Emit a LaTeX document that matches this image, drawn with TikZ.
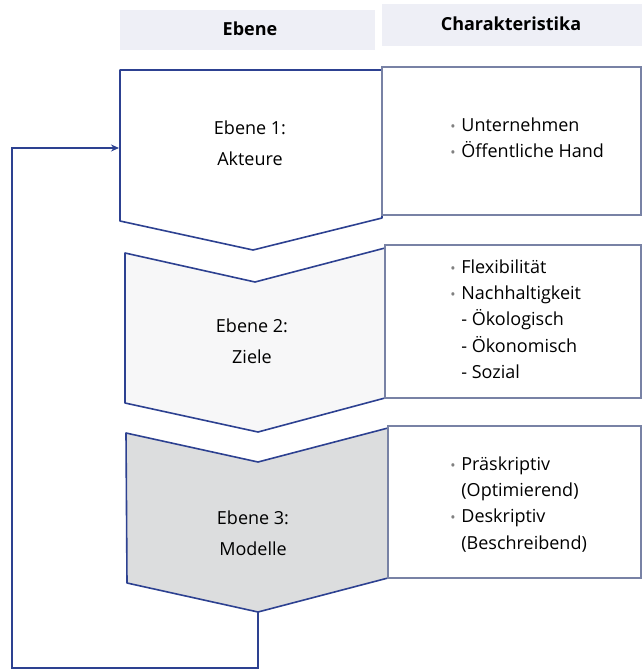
\documentclass[tikz,border=0pt]{standalone}
\usepackage{fontspec}
\setmainfont{Open Sans}
\usetikzlibrary{arrows.meta}
\definecolor{rimblue}{RGB}{45,65,145}
\definecolor{boxgray}{RGB}{120,130,165}
\definecolor{hdrfill}{RGB}{238,239,246}
\definecolor{levelgray}{RGB}{220,221,222}
\definecolor{levellight}{RGB}{247,247,248}
\newcommand{\bul}{\makebox[5.5pt][l]{\textcolor{gray}{\scriptsize\textbullet}}}
\newcommand{\ind}{\hspace*{5.5pt}}
\begin{document}
\begin{tikzpicture}[
    x=0.5pt, y=-0.5pt,
    hdr/.style={rectangle, fill=hdrfill, font=\fontsize{9}{11}\selectfont\bfseries},
    level/.style={draw=rimblue, line width=0.8pt, line join=round},
    charbox/.style={draw=boxgray, line width=0.8pt, fill=white},
    lbl/.style={align=center, font=\fontsize{9}{15.5}\selectfont},
    items/.style={align=left, anchor=north west, inner sep=0pt, font=\fontsize{9}{13.2}\selectfont},
    arrow/.style={-{Stealth[length=4pt,width=3.5pt]}, draw=rimblue, line width=0.8pt}
]
\useasboundingbox (0,0) rectangle (642,671);

% Header
\fill[hdrfill] (120,10) rectangle (375,50);
\fill[hdrfill] (382,4) rectangle (642,46);
\node[font=\fontsize{9}{11}\selectfont\bfseries] (hdrebene) at (250,29) {Ebene};
\node[font=\fontsize{9}{11}\selectfont\bfseries] (hdrchar) at (511,24) {Charakteristika};

% Ebene 1
\draw[level, fill=white] (120,70) -- (382,70) -- (382,218) -- (253,250) -- (120,221) -- cycle;
\draw[charbox] (382,67) rectangle (641,215);
\node[lbl] (ebene1) at (250,143) {Ebene 1:\\Akteure};
\node[items] (char1) at (450,117) {\bul Unternehmen\\\bul Öffentliche Hand};

% Ebene 2
\draw[level, fill=levellight] (125,253) -- (255,282) -- (385,248) -- (385,398) -- (258,432) -- (125,403) -- cycle;
\draw[charbox] (385,245) rectangle (641,398);
\node[lbl] (ebene2) at (252,341) {Ebene 2:\\Ziele};
\node[items] (char2) at (450,259) {\bul Flexibilität\\\bul Nachhaltigkeit\\\ind - Ökologisch\\\ind - Ökonomisch\\\ind - Sozial};

% Ebene 3
\draw[level, fill=levelgray] (126,433) -- (258,462) -- (388,428) -- (388,578) -- (258,612) -- (127,583) -- cycle;
\draw[charbox] (388,426) rectangle (641,578);
\node[lbl] (ebene3) at (253,533) {Ebene 3:\\Modelle};
\node[items] (char3) at (450,456) {\bul Präskriptiv\\\ind(Optimierend)\\\bul Deskriptiv\\\ind(Beschreibend)};

% Feedback
\coordinate (tip3) at (258,612);
\coordinate (in1) at (119,148);
\draw[arrow] (tip3) -- ++(0,56) -| (12,148) -- (in1);

\end{tikzpicture}
\end{document}
